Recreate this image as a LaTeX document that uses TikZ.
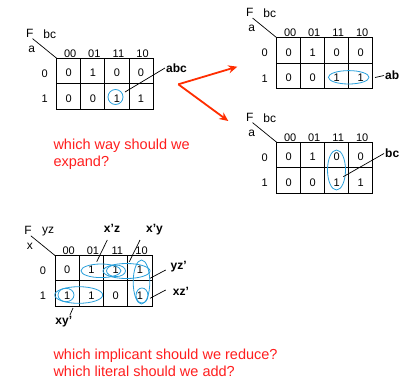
\documentclass[tikz,border=0pt]{standalone}
\usepackage{fontspec}
\setmainfont{Liberation Sans}
\usetikzlibrary{arrows.meta}
\definecolor{ovalblue}{RGB}{40,160,220}
\definecolor{txtred}{RGB}{255,30,30}
\definecolor{arrred}{RGB}{255,45,0}
\tikzset{
  gridline/.style={line width=0.9pt},
  cell/.style={font=\fontsize{11}{13}\selectfont, inner sep=0pt},
  hdr/.style={font=\fontsize{11}{13}\selectfont, inner sep=0pt},
  varlbl/.style={font=\fontsize{12}{14}\selectfont, inner sep=0pt},
  lbl/.style={font=\fontsize{12}{14}\selectfont\bfseries, inner sep=1pt},
  leader/.style={line width=0.7pt},
  oval/.style={draw=ovalblue, line width=0.8pt},
  note/.style={font=\fontsize{14.5}{17.4}\selectfont, text=txtred, inner sep=0pt, anchor=base west},
  redarrow/.style={draw=arrred, line width=1.8pt, -{Stealth[length=9pt,width=8pt]}}
}
% #1 name, #2 left, #3 top, #4 cell w, #5 cell h, #6 col var, #7 row var, #8 values
\newcommand{\kmapdraw}[8]{%
  \begin{scope}[shift={(#2,#3)}]
    \draw[gridline] (0,0) rectangle ({4*#4},{2*#5});
    \foreach \i in {1,2,3} \draw[gridline] ({\i*#4},0) -- ({\i*#4},{2*#5});
    \draw[gridline] (0,#5) -- ({4*#4},#5);
    \foreach \v [count=\k from 0] in {#8} {
      \pgfmathtruncatemacro\rr{int(\k/4)}
      \pgfmathtruncatemacro\cc{mod(\k,4)}
      \node[cell] (#1-\rr\cc) at ({(\cc+0.5)*#4},{(\rr+0.5)*#5+2}) {\v};
    }
    \foreach \h [count=\k from 0] in {00,01,11,10}
      \node[hdr, anchor=base] (#1-h\k) at ({(\k+0.5)*#4+1.5},-1) {\h};
    \node[hdr] (#1-r0) at (-12,{0.5*#5+2.5}) {0};
    \node[hdr] (#1-r1) at (-12,{1.5*#5+2.5}) {1};
    \node[varlbl] (#1-F) at (-27,-25) {F};
    \node[varlbl] (#1-cv) at (-7,-24) {#6};
    \node[varlbl] (#1-rv) at (-25,-9) {#7};
    \coordinate (#1-corner) at (0,0);
    \draw[leader] ([xshift=-1pt,yshift=-1pt]#1-F.south east) -- (#1-corner);
  \end{scope}}
\begin{document}
\begin{tikzpicture}[x=1pt,y=-1pt]
\fill[white] (0,0) rectangle (402,381);
\useasboundingbox (0,0) rectangle (402,381);

% map 1
\kmapdraw{m1}{56.7}{58.3}{24.1}{25.4}{bc}{a}{0,1,0,0,0,0,1,1}
\draw[oval] (115.5,97) circle[radius=7.5pt];
\node[lbl, anchor=west] (abc) at (165,68) {abc};
\coordinate (abcend) at (125,92);
\draw[leader] (abc.west) -- (abcend);

% map 2
\kmapdraw{m2}{276.7}{37.7}{24}{25.6}{bc}{a}{0,1,0,0,0,0,1,1}
\draw[oval] (348.7,77.3) ellipse[x radius=20.3pt, y radius=6.7pt];
\node[lbl, anchor=west] (ab) at (384,75.5) {ab};
\coordinate (abend) at (375,77.5);
\draw[leader] (ab.west) -- (abend);

% map 3
\kmapdraw{m3}{276.7}{142.3}{24}{25.5}{bc}{a}{0,1,0,0,0,0,1,1}
\draw[oval] (336.5,170) ellipse[x radius=9pt, y radius=20pt];
\node[lbl, anchor=west] (bc) at (384,153.5) {bc};
\coordinate (bcend) at (343.3,176.7);
\draw[leader] (bc.west) -- (bcend);

% red arrows
\coordinate (fork) at (178.3,84.3);
\coordinate (tipup) at (237.3,66.7);
\coordinate (tipdown) at (228.3,121);
\draw[redarrow] (fork) -- (tipup);
\draw[redarrow] (fork) -- (tipdown);

\node[note] (q1a) at (53.3,149.3) {which way should we};
\node[note] (q1b) at (53.3,166.7) {expand?};

% map 4
\kmapdraw{m4}{55}{255.5}{24.3}{25.3}{yz}{x}{0,1,1,1,1,1,0,1}
\draw[oval] (101,270.8) ellipse[x radius=20pt, y radius=6.8pt];
\draw[oval] (116,270.8) ellipse[x radius=9.5pt, y radius=5.8pt];
\draw[oval] (126.5,271) ellipse[x radius=23.5pt, y radius=7.5pt];
\draw[oval] (141.5,282) ellipse[x radius=8.3pt, y radius=22pt];
\draw[oval] (142,295.5) ellipse[x radius=6pt, y radius=7.5pt];
\draw[oval] (78.7,295) ellipse[x radius=24pt, y radius=8.3pt];
\draw[oval] (66,295) ellipse[x radius=8pt, y radius=6.7pt];

\node[lbl] (xpz) at (112,228.3) {x'z};
\coordinate (xpzend) at (96.7,261.7);
\draw[leader] (107.3,240) -- (xpzend);
\node[lbl] (xpy) at (154.5,230) {x'y};
\coordinate (xpyend) at (129.3,261.7);
\draw[leader] (140,240) -- (xpyend);
\node[lbl] (yzp) at (178.7,267) {yz'};
\coordinate (yzpend) at (150,278.3);
\draw[leader] (165.7,270) -- (yzpend);
\node[lbl] (xzp) at (181,291.7) {xz'};
\coordinate (xzpend) at (150,298.3);
\draw[leader] (165.7,290) -- (xzpend);
\node[lbl] (xyp) at (63.8,321.7) {xy'};
\coordinate (xypend) at (73,308);
\draw[leader] (70,315) -- (xypend);

\node[note] (q2a) at (53.3,359.3) {which implicant should we reduce?};
\node[note] (q2b) at (53.3,376.7) {which literal should we add?};
\end{tikzpicture}
\end{document}
